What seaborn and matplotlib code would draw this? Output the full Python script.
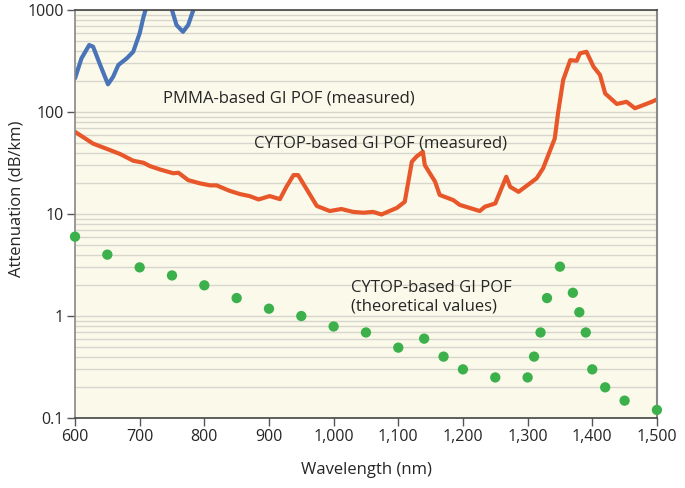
import matplotlib
matplotlib.use("Agg")
import matplotlib.pyplot as plt
import matplotlib.ticker as mticker
import pandas as pd
import seaborn as sns

# PMMA-based GI POF (measured) -- goes off the top of the chart
pmma_nm = [600, 610, 622, 628, 639, 651, 659, 667, 680, 690, 700, 706, 709, 715, 730, 745,
           750, 757, 767, 775, 783, 788, 795]
pmma_att = [214, 336, 454, 437, 289, 187, 222, 289, 336, 390, 591, 860, 1000, 1400, 1800, 1300,
            1000, 713, 612, 713, 1000, 1300, 1700]

# CYTOP-based GI POF (measured)
cytop_nm = [600, 628, 654, 670, 690, 706, 716, 731, 752, 760, 775, 793, 809, 819, 839, 855,
            870, 884, 901, 917, 927, 938, 945, 956, 974, 994, 1012, 1030, 1046, 1061, 1074,
            1098, 1110, 1121, 1128, 1138, 1141, 1157, 1164, 1185, 1195, 1226, 1234, 1250,
            1267, 1273, 1286, 1314, 1324, 1342, 1347, 1355, 1366, 1376, 1381, 1391, 1402,
            1412, 1420, 1438, 1453, 1466, 1479, 1492, 1500]
cytop_att = [64, 49, 42.4, 38.7, 33.3, 31.8, 29.5, 27.4, 25.1, 25.4, 21.5, 20.0, 19.1, 19.1,
             16.9, 15.7, 15.0, 13.9, 15.0, 14.0, 18.5, 24.1, 24.1, 18.5, 12.0, 10.7, 11.2,
             10.5, 10.3, 10.5, 9.9, 11.5, 13.2, 32.6, 36.5, 40.8, 30.2, 20.7, 15.4, 13.7,
             12.3, 10.7, 11.8, 12.7, 23.2, 18.5, 16.5, 22.4, 28.1, 55, 97, 206, 323, 318,
             376, 390, 278, 231, 152, 120, 126, 109, 117, 126, 133]

# CYTOP-based GI POF (theoretical values)
theo_nm = [600, 650, 700, 750, 800, 850, 900, 950, 1000, 1050, 1100, 1140, 1170, 1200, 1250,
           1300, 1310, 1320, 1330, 1350, 1370, 1380, 1390, 1400, 1420, 1450, 1500]
theo_att = [6.0, 4.0, 3.0, 2.5, 2.0, 1.5, 1.18, 1.0, 0.79, 0.69, 0.49, 0.6, 0.4, 0.3, 0.25,
            0.25, 0.4, 0.69, 1.5, 3.05, 1.69, 1.09, 0.69, 0.3, 0.2, 0.148, 0.12]

x_ticks = [600, 700, 800, 900, 1000, 1100, 1200, 1300, 1400, 1500]
y_ticks = [0.1, 1, 10, 100, 1000]
y_tick_labels = ["0.1", "1", "10", "100", "1000"]

sns.set_style("white")
plt.rcParams["font.family"] = ["Open Sans", "DejaVu Sans"]

df_pmma = pd.DataFrame({"nm": pmma_nm, "att": pmma_att})
df_cytop = pd.DataFrame({"nm": cytop_nm, "att": cytop_att})
df_theo = pd.DataFrame({"nm": theo_nm, "att": theo_att})

fig = plt.figure(figsize=(6.85, 4.88), dpi=100)
ax = fig.add_axes([0.1095, 0.1434, 0.8495, 0.836])
ax.set_facecolor("#fbf9ea")

ax.set_yscale("log")
ax.set_xlim(600, 1500)
ax.set_ylim(0.1, 1000)

# grid lines at every minor decade step
ax.yaxis.set_minor_locator(mticker.LogLocator(base=10, subs=range(2, 10)))
ax.grid(True, which="both", axis="y", color="#d6d6cc", linewidth=1.0)
ax.set_axisbelow(True)

sns.lineplot(data=df_pmma, x="nm", y="att", ax=ax, color="#4a74b8", linewidth=3,
             sort=False, estimator=None, solid_joinstyle="round", solid_capstyle="round")
sns.lineplot(data=df_cytop, x="nm", y="att", ax=ax, color="#e8572a", linewidth=3,
             sort=False, estimator=None, solid_joinstyle="round", solid_capstyle="round")
sns.scatterplot(data=df_theo, x="nm", y="att", ax=ax, color="#3cb04a", s=55,
                edgecolor="none", clip_on=False, zorder=5)

ax.set_xticks(x_ticks)
ax.set_xticklabels([f"{v:,}" for v in x_ticks])
ax.set_yticks(y_ticks)
ax.set_yticklabels(y_tick_labels)
ax.yaxis.set_minor_formatter(mticker.NullFormatter())
ax.tick_params(axis="both", which="major", length=6, width=1, color="#555555",
               labelsize=11.5, direction="out", pad=2, left=True, bottom=True)
ax.tick_params(axis="y", which="minor", length=0)

for side in ["left", "bottom", "top"]:
    ax.spines[side].set_color("#444444")
    ax.spines[side].set_linewidth(1.2)
ax.spines["right"].set_color("#888888")
ax.spines["right"].set_linewidth(1.5)
ax.spines["left"].set_color("#888888")

ax.set_xlabel("Wavelength (nm)", fontsize=12, labelpad=12)
ax.set_ylabel("Attenuation (dB/km)", fontsize=12)
ax.yaxis.set_label_coords(-0.086, 0.537)

ax.text(736, 136, "PMMA-based GI POF (measured)", fontsize=12, va="center", ha="left")
ax.text(877, 49, "CYTOP-based GI POF (measured)", fontsize=12, va="center", ha="left")
ax.text(1027, 1.53, "CYTOP-based GI POF\n(theoretical values)", fontsize=12,
        va="center", ha="left", linespacing=1.2)

fig.savefig("out.png", dpi=100)
